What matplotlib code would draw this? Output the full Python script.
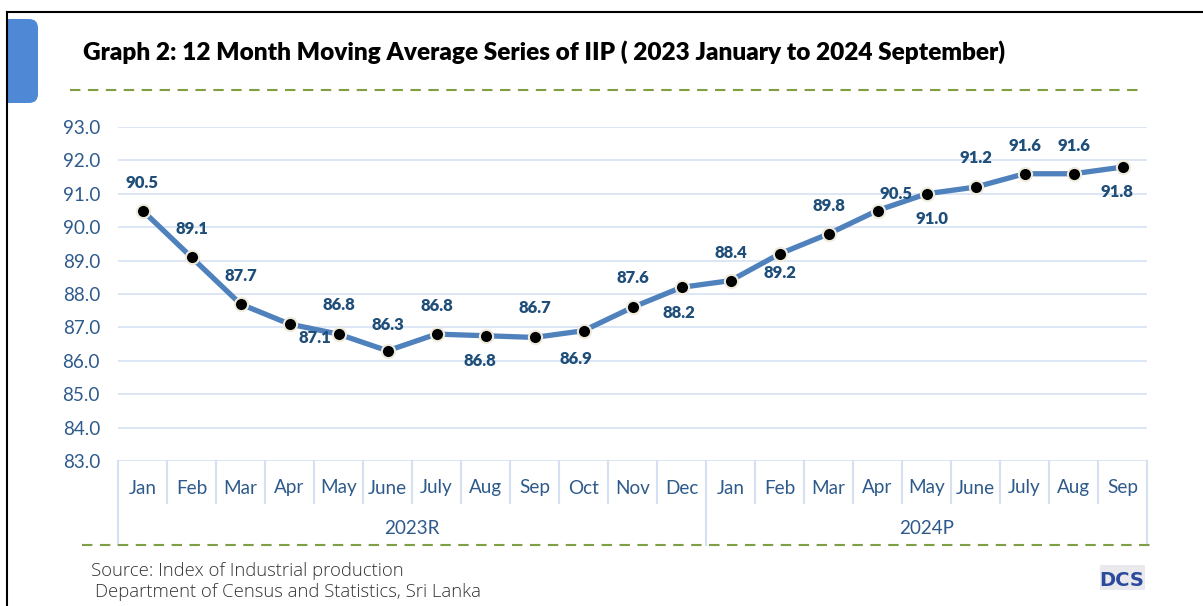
import matplotlib.pyplot as plt
import matplotlib.patches as mpatches
import matplotlib.transforms as mtransforms

months = ["Jan", "Feb", "Mar", "Apr", "May", "June", "July", "Aug", "Sep", "Oct", "Nov", "Dec",
          "Jan", "Feb", "Mar", "Apr", "May", "June", "July", "Aug", "Sep"]
years = ["2023R", "2024P"]
year_len = [12, 9]
iip = [90.5, 89.1, 87.7, 87.1, 86.8, 86.3, 86.8, 86.75, 86.7, 86.9, 87.6, 88.2,
       88.4, 89.2, 89.8, 90.5, 91.0, 91.2, 91.6, 91.6, 91.8]
labels = ["90.5", "89.1", "87.7", "87.1", "86.8", "86.3", "86.8", "86.8", "86.7", "86.9", "87.6", "88.2",
          "88.4", "89.2", "89.8", "90.5", "91.0", "91.2", "91.6", "91.6", "91.8"]

# label offsets in pixels (dx, dy up)
lab_off = [(0, 28), (0, 28), (0, 28), (25, -14), (0, 29), (0, 26), (0, 28), (-6, -25), (0, 29),
           (-8, -28), (0, 29), (-3, -26), (0, 28), (0, -19), (0, 28), (19, 17), (6, -25), (0, 29),
           (0, 28), (0, 28), (-6, -25)]

W, H = 1203, 606
tick_col = "#2E5A8C"
lab_col = "#1F4E79"
grid_col = "#D5E1F2"
green = "#7F9F45"
font = "Lato"

fig = plt.figure(figsize=[W / 100, H / 100], dpi=100)
fig.patch.set_facecolor("white")

def fx(px):
    return px / W

def fy(py):
    return 1 - py / H

ax = fig.add_axes([fx(118), fy(461), fx(1147) - fx(118), fy(127) - fy(461)])
x = list(range(len(iip)))
ax.set_xlim(-0.5, len(iip) - 0.5)
ax.set_ylim(83, 93)
ax.set_yticks(range(83, 94))
ax.set_yticklabels(["%.1f" % v for v in range(83, 94)], fontsize=13.6, color=tick_col, family=font)
ax.tick_params(axis="y", length=0, pad=13)
ax.set_xticks([])
for s in ax.spines.values():
    s.set_visible(False)
ax.grid(axis="y", color=grid_col, linewidth=1.2)
ax.set_axisbelow(True)

ax.plot(x, iip, color="#4F81BD", linewidth=3.8, marker="o", markersize=9.5,
        markerfacecolor="black", markeredgecolor="#EEEBDC", markeredgewidth=1.5, zorder=3)

for i in range(len(iip)):
    ax.annotate(labels[i], (x[i], iip[i]), xytext=lab_off[i], textcoords="offset pixels",
                ha="center", va="center", fontsize=12, fontweight="heavy", color=lab_col,
                family=font, zorder=4)

# category axis boxes below the plot
trans = mtransforms.blended_transform_factory(ax.transData, ax.transAxes)
short_y = (461 - 503) / 334
long_y = (461 - 545) / 334
bounds = [-0.5]
for n in year_len:
    bounds.append(bounds[-1] + n)
for i in range(len(iip) + 1):
    xb = i - 0.5
    y1 = long_y if xb in bounds else short_y
    ax.plot([xb, xb], [0, y1], color=grid_col, linewidth=1.5, transform=trans, clip_on=False)
for i, m in enumerate(months):
    ax.text(i, (461 - 488) / 334, m, transform=trans, ha="center", va="center",
            fontsize=13.6, color=tick_col, family=font)
for k, yr in enumerate(years):
    ax.text((bounds[k] + bounds[k + 1]) / 2, (461 - 529) / 334, yr, transform=trans,
            ha="center", va="center", fontsize=13.6, color=tick_col, family=font)

# blue tab, square on the left (hidden behind the frame), rounded on the right
tab = mpatches.FancyBboxPatch((-20, H - 103), 58, 84,
                              boxstyle="round,pad=0,rounding_size=9",
                              facecolor="#4F88D4", edgecolor="none")
tab.set_transform(mtransforms.IdentityTransform())
fig.add_artist(tab)
fig.add_artist(mpatches.Rectangle((0, 0), fx(7), 1, transform=fig.transFigure,
                                  facecolor="white", edgecolor="none"))
fig.add_artist(plt.Line2D([fx(7), 1], [fy(12), fy(12)], color="black", linewidth=1.5))
fig.add_artist(plt.Line2D([fx(7), fx(7)], [fy(12), 0], color="black", linewidth=1.5))

fig.text(fx(83), fy(52), "Graph 2: 12 Month Moving Average Series of IIP ( 2023 January to 2024 September)",
         fontsize=17.6, fontweight="heavy", color="black", family=font, va="center", ha="left")
fig.add_artist(plt.Line2D([fx(70), fx(1143)], [fy(90), fy(90)], color=green, linewidth=1.5,
                          linestyle=(0, (5, 3.6))))
fig.add_artist(plt.Line2D([fx(82), fx(1155)], [fy(545), fy(545)], color=green, linewidth=1.5,
                          linestyle=(0, (5, 3.6))))

fig.text(fx(91), fy(571), "Source: Index of Industrial production", fontsize=13.3,
         color="#333333", family="Open Sans", fontweight="light", va="center", ha="left")
fig.text(fx(95), fy(592), "Department of Census and Statistics, Sri Lanka", fontsize=13.3,
         color="#333333", family="Open Sans", fontweight="light", va="center", ha="left")

# DCS logo
fig.add_artist(mpatches.Rectangle((fx(1100), fy(590)), fx(45), fy(565) - fy(590),
                                  transform=fig.transFigure, facecolor="#E9E9EE", edgecolor="none"))
fig.text(fx(1122), fy(580), "DCS", fontsize=14, fontweight="bold", color="#2B4A9B",
         family="DejaVu Sans", va="center", ha="center")

fig.savefig("out.png", dpi=100)
